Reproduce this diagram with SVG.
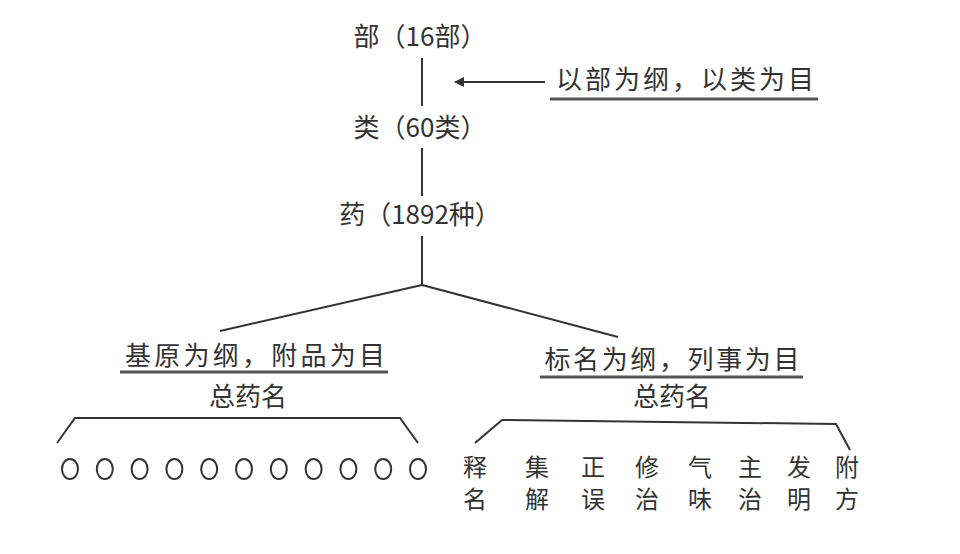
<svg xmlns="http://www.w3.org/2000/svg" width="960" height="554" viewBox="0 0 960 554">
<style>
text{font-family:"Noto Sans CJK SC","Liberation Sans",sans-serif;fill:#333;font-size:26px;text-anchor:middle}
.s{font-size:24px}
.l{stroke:#333;stroke-width:2;fill:none}
.u{stroke:#555;stroke-width:3}
</style>
<defs><marker id="a" viewBox="0 0 10 10" refX="9" refY="5" markerWidth="10" markerHeight="10" markerUnits="userSpaceOnUse" orient="auto"><path d="M0,0L10,5L0,10z" fill="#333"/></marker></defs>
<rect width="960" height="554" fill="#fff"/>
<g id="connectors">
<path class="l" d="M422,58V106M422,148V196M422,236V285M422,285L220,331M422,285L618,337"/>
<path class="l" d="M545,82H455" marker-end="url(#a)"/>
<path class="l" d="M57,443L75,418H400L418,443"/>
<path class="l" d="M475,443L502,420L836,424L850,450"/>
<path class="u" d="M550,99H818M120,372H388M540,377H803"/>
</g>
<g id="bu"><text x="420" y="46">部（16部）</text></g>
<g id="note"><text x="685" y="89" textLength="258">以部为纲，以类为目</text></g>
<g id="lei"><text x="420" y="137">类（60类）</text></g>
<g id="yao"><text x="420" y="224">药（1892种）</text></g>
<g id="left"><text x="255" y="365" textLength="260">基原为纲，附品为目</text><text x="248" y="406">总药名</text></g>
<g id="right"><text x="672" y="369" textLength="255">标名为纲，列事为目</text><text x="672" y="406">总药名</text></g>
<g id="circles" class="l">
<ellipse cx="70" cy="469" rx="8" ry="10"/><ellipse cx="104.8" cy="469" rx="8" ry="10"/><ellipse cx="139.6" cy="469" rx="8" ry="10"/><ellipse cx="174.4" cy="469" rx="8" ry="10"/><ellipse cx="209.2" cy="469" rx="8" ry="10"/><ellipse cx="244" cy="469" rx="8" ry="10"/><ellipse cx="278.8" cy="469" rx="8" ry="10"/><ellipse cx="313.6" cy="469" rx="8" ry="10"/><ellipse cx="348.4" cy="469" rx="8" ry="10"/><ellipse cx="383.2" cy="469" rx="8" ry="10"/><ellipse cx="418" cy="469" rx="8" ry="10"/>
</g>
<g id="items" class="s">
<text class="s" x="475" y="476">释</text><text class="s" x="475" y="508">名</text>
<text class="s" x="537" y="476">集</text><text class="s" x="537" y="508">解</text>
<text class="s" x="593" y="476">正</text><text class="s" x="593" y="508">误</text>
<text class="s" x="647" y="476">修</text><text class="s" x="647" y="508">治</text>
<text class="s" x="700" y="476">气</text><text class="s" x="700" y="508">味</text>
<text class="s" x="750" y="476">主</text><text class="s" x="750" y="508">治</text>
<text class="s" x="799" y="476">发</text><text class="s" x="799" y="508">明</text>
<text class="s" x="847" y="476">附</text><text class="s" x="847" y="508">方</text>
</g>
</svg>
